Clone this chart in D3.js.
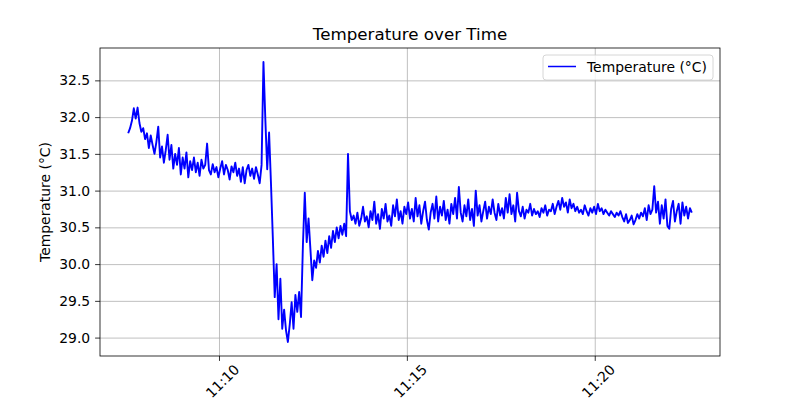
<!DOCTYPE html>
<html>
<head>
<meta charset="utf-8">
<script src="https://cdn.jsdelivr.net/npm/d3@7"></script>
<style>
  body { margin: 0; background: #fff; }
  svg text { font-family: "DejaVu Sans", sans-serif; fill: #000; }
</style>
</head>
<body>
<svg id="chart" width="800" height="400"></svg>
<script>
// samples every 3 s starting at 11:07:35
const startTime = new Date(2024, 0, 1, 11, 7, 35);
const stepSeconds = 3;
const temperature = [
    31.78, 31.85, 31.95, 32.12, 31.98, 32.13, 31.92, 31.80, 31.85, 31.70,
    31.78, 31.58, 31.75, 31.62, 31.50, 31.66, 31.87, 31.45, 31.60, 31.38,
    31.55, 31.76, 31.42, 31.62, 31.30, 31.50, 31.35, 31.58, 31.22, 31.45,
    31.30, 31.52, 31.18, 31.40, 31.28, 31.45, 31.25, 31.38, 31.20, 31.42,
    31.30, 31.35, 31.64, 31.28, 31.22, 31.36, 31.25, 31.32, 31.18, 31.30,
    31.40, 31.22, 31.35, 31.28, 31.15, 31.33, 31.25, 31.38, 31.20, 31.30,
    31.12, 31.32, 31.10, 31.28, 31.35, 31.20, 31.30, 31.16, 31.32, 31.22,
    31.10, 31.35, 32.75, 31.97, 31.29, 31.79, 31.10, 30.35, 29.55, 30.00,
    29.25, 29.80, 29.12, 29.38, 29.10, 28.94, 29.18, 29.48, 29.12, 29.58,
    29.35, 29.62, 29.28, 30.25, 30.97, 30.30, 30.62, 30.20, 29.78, 30.05,
    29.95, 30.18, 30.02, 30.25, 30.10, 30.32, 30.15, 30.38, 30.22, 30.45,
    30.30, 30.50, 30.35, 30.52, 30.40, 30.55, 30.38, 31.50, 30.72, 30.60,
    30.66, 30.55, 30.70, 30.52, 30.62, 30.78, 30.58, 30.65, 30.50, 30.72,
    30.60, 30.85, 30.55, 30.68, 30.48, 30.75, 30.62, 30.82, 30.58, 30.66,
    30.52, 30.80, 30.65, 30.88, 30.60, 30.72, 30.55, 30.78, 30.68, 30.84,
    30.62, 30.75, 30.58, 30.90, 30.65, 30.80, 30.55, 30.72, 30.85, 30.60,
    30.47, 30.70, 30.82, 30.62, 30.92, 30.58, 30.78, 30.66, 30.86, 30.60,
    30.74, 30.55, 30.82, 30.68, 30.90, 30.62, 31.05, 30.70, 30.58, 30.80,
    30.65, 30.88, 30.60, 30.75, 30.52, 31.00, 30.66, 30.80, 30.58, 30.72,
    30.85, 30.62, 30.78, 30.68, 30.88, 30.70, 30.60, 30.82, 30.66, 30.76,
    30.62, 30.90, 30.70, 30.95, 30.68, 30.80, 30.58, 30.97, 30.72, 30.65,
    30.78, 30.62, 30.74, 30.70, 30.82, 30.66, 30.75, 30.68, 30.72, 30.64,
    30.76, 30.70, 30.80, 30.66, 30.74, 30.72, 30.82, 30.68, 30.78, 30.86,
    30.74, 30.90, 30.78, 30.84, 30.70, 30.88, 30.76, 30.82, 30.72, 30.78,
    30.70, 30.74, 30.68, 30.80, 30.72, 30.66, 30.76, 30.70, 30.78, 30.68,
    30.82, 30.72, 30.76, 30.68, 30.74, 30.70, 30.66, 30.72, 30.68, 30.64,
    30.70, 30.66, 30.72, 30.64, 30.58, 30.68, 30.56, 30.60, 30.66, 30.54,
    30.60, 30.68, 30.62, 30.70, 30.65, 30.76, 30.60, 30.80, 30.68, 30.74,
    31.06, 30.70, 30.85, 30.55, 30.80, 30.62, 30.88, 30.52, 30.48, 30.75,
    30.86, 30.58, 30.72, 30.82, 30.55, 30.84, 30.66, 30.78, 30.62, 30.76,
    30.70
];
const yTickValues = [29.0, 29.5, 30.0, 30.5, 31.0, 31.5, 32.0, 32.5];

const data = temperature.map((t, i) => ({
    time: new Date(startTime.getTime() + i * stepSeconds * 1000),
    temp: t
}));

// svg dimensions
const svg = d3.select("#chart");
const margin = { top: 48, right: 80, bottom: 44, left: 100 };
const width = +svg.attr("width") - margin.left - margin.right;
const height = +svg.attr("height") - margin.top - margin.bottom;
const g = svg.append("g")
    .attr("transform", "translate(" + margin.left + "," + margin.top + ")");

// scales with matplotlib-like 5% margins
function padded(extent) {
    const pad = (extent[1] - extent[0]) * 0.05;
    return [extent[0] - pad, extent[1] + pad];
}
const tExt = d3.extent(data, d => d.time.getTime());
const x = d3.scaleTime()
    .domain(padded(tExt).map(v => new Date(v)))
    .range([0, width]);
const y = d3.scaleLinear()
    .domain(padded(d3.extent(data, d => d.temp)))
    .range([height, 0]);

const xTicks = x.ticks(d3.timeMinute.every(5));

// grid
g.append("g")
    .attr("class", "grid")
    .attr("transform", "translate(0," + height + ")")
    .call(d3.axisBottom(x).tickValues(xTicks).tickSize(-height).tickFormat(""));
g.append("g")
    .attr("class", "grid")
    .call(d3.axisLeft(y).tickValues(yTickValues).tickSize(-width).tickFormat(""));
g.selectAll(".grid .domain").remove();
g.selectAll(".grid line").attr("stroke", "#b0b0b0").attr("stroke-width", 0.8);

// line
const line = d3.line()
    .x(d => x(d.time))
    .y(d => y(d.temp));
g.append("path")
    .datum(data)
    .attr("fill", "none")
    .attr("stroke", "#0000ff")
    .attr("stroke-width", 1.9)
    .attr("stroke-linejoin", "round")
    .attr("d", line);

// axes
const xAxis = g.append("g")
    .attr("transform", "translate(0," + height + ")")
    .call(d3.axisBottom(x).tickValues(xTicks).tickFormat(d3.timeFormat("%H:%M"))
        .tickSize(4.9).tickSizeOuter(0));
xAxis.selectAll("text")
    .attr("font-size", "13.9px")
    .attr("text-anchor", "middle")
    .attr("dominant-baseline", "central")
    .attr("y", 0).attr("dy", 0)
    .attr("transform", "translate(3,25) rotate(-45)");

const yAxis = g.append("g")
    .call(d3.axisLeft(y).tickValues(yTickValues).tickFormat(d3.format(".1f"))
        .tickSize(4.9).tickPadding(4.9).tickSizeOuter(0));
yAxis.selectAll("text").attr("font-size", "13.9px");
g.selectAll(".domain").remove();
g.selectAll(".tick line").filter(function() { return !this.closest(".grid"); })
    .attr("stroke", "#000").attr("stroke-width", 0.8);

// spines
g.append("rect")
    .attr("width", width)
    .attr("height", height)
    .attr("fill", "none")
    .attr("stroke", "#000")
    .attr("stroke-width", 0.8);

// labels
svg.append("text")
    .attr("x", margin.left + width / 2)
    .attr("y", 40)
    .attr("text-anchor", "middle")
    .attr("font-size", "16.7px")
    .text("Temperature over Time");
svg.append("text")
    .attr("transform", "translate(50," + (margin.top + height / 2) + ") rotate(-90)")
    .attr("text-anchor", "middle")
    .attr("font-size", "13.9px")
    .text("Temperature (°C)");

// legend
const legend = svg.append("g").attr("transform", "translate(543,55)");
legend.append("rect")
    .attr("width", 170).attr("height", 25)
    .attr("rx", 3)
    .attr("fill", "#fff").attr("fill-opacity", 0.8)
    .attr("stroke", "#cccccc").attr("stroke-width", 0.8);
legend.append("line")
    .attr("x1", 5).attr("x2", 33).attr("y1", 11.5).attr("y2", 11.5)
    .attr("stroke", "#0000ff").attr("stroke-width", 1.5);
legend.append("text")
    .attr("x", 44).attr("y", 11.5)
    .attr("dominant-baseline", "central")
    .attr("font-size", "13.9px")
    .text("Temperature (°C)");
</script>
</body>
</html>
